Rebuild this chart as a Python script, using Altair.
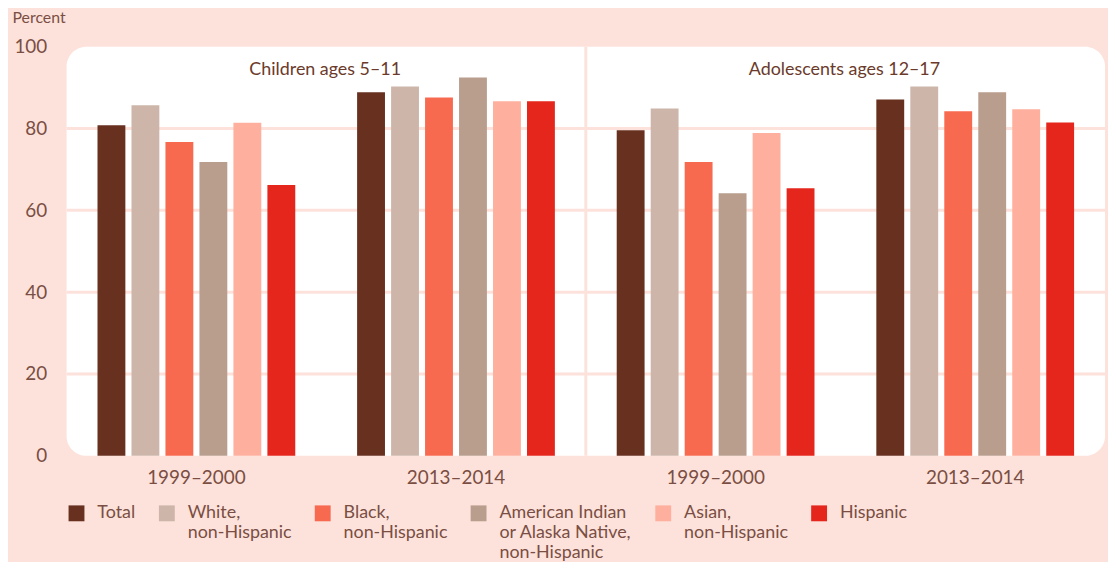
import altair as alt
import pandas as pd

# ---- data ----
panels = ["Children ages 5–11", "Adolescents ages 12–17"]
periods = ["1999–2000", "2013–2014"]
# legend labels, one list of lines per group
group_lines = [
    ["Total"],
    ["White,", "non-Hispanic"],
    ["Black,", "non-Hispanic"],
    ["American Indian", "or Alaska Native,", "non-Hispanic"],
    ["Asian,", "non-Hispanic"],
    ["Hispanic"],
]
colors = ["#67301F", "#CDB6A9", "#F76A50", "#B99E8D", "#FFAF9E", "#E5261C"]

children_1999 = [80.8, 85.7, 76.7, 71.8, 81.4, 66.2]
children_2013 = [88.9, 90.3, 87.6, 92.5, 86.7, 86.7]
adolescents_1999 = [79.6, 84.9, 71.8, 64.2, 78.9, 65.4]
adolescents_2013 = [87.1, 90.3, 84.2, 88.9, 84.7, 81.5]

y_ticks = [0, 20, 40, 60, 80, 100]
grid_values = [20, 40, 60, 80]

# ---- styling ----
BG = "#FDE2DC"
GRID = "#FDE2DC"
LABEL = "#7A4E42"
DARK = "#6B3A2B"
FONT = "Lato"

# legend keys: lines joined by '|', padded to 3 lines so that every
# entry's first line sits on the same row
groups = ["|".join(list(lines) + [""] * (3 - len(lines))) for lines in group_lines]

series = {
    (panels[0], periods[0]): children_1999,
    (panels[0], periods[1]): children_2013,
    (panels[1], periods[0]): adolescents_1999,
    (panels[1], periods[1]): adolescents_2013,
}
keys = []
rows = []
for p in panels:
    for per in periods:
        k = p + " · " + per
        keys.append(k)
        for g, v in zip(groups, series[(p, per)]):
            rows.append({"key": k, "group": g, "value": v})
df = pd.DataFrame(rows)

x_scale = alt.Scale(domain=keys, paddingInner=0, paddingOuter=0)

bars = alt.Chart(df).mark_bar().encode(
    x=alt.X(
        "key:N",
        sort=keys,
        scale=x_scale,
        axis=alt.Axis(
            title=None,
            labelExpr="split(datum.label, ' · ')[1]",
            labelAngle=0,
            labelAlign="center",
            bandPosition=0.5,
            labelFontSize=19,
            labelColor=LABEL,
            labelFont=FONT,
            labelPadding=22,
            ticks=False,
            domain=False,
            grid=False,
        ),
    ),
    xOffset=alt.XOffset(
        "group:N", sort=groups,
        scale=alt.Scale(domain=groups, paddingInner=0.18, paddingOuter=0.91),
    ),
    y=alt.Y(
        "value:Q",
        scale=alt.Scale(domain=[0, 100], nice=False),
        axis=alt.Axis(
            values=y_ticks,
            title="Percent",
            titleAngle=0,
            titleAlign="left",
            titleBaseline="top",
            titleX=-55,
            titleY=-37,
            titleFontSize=16,
            titleFontWeight="normal",
            titleColor=LABEL,
            titleFont=FONT,
            labelFontSize=19,
            labelColor=LABEL,
            labelFont=FONT,
            labelPadding=20,
            ticks=False,
            domain=False,
            grid=False,
        ),
    ),
    color=alt.Color(
        "group:N",
        sort=groups,
        scale=alt.Scale(domain=groups, range=colors),
        legend=alt.Legend(
            title=None,
            orient="none",
            legendX=1,
            legendY=461,
            direction="horizontal",
            columns=6,
            symbolType="square",
            symbolSize=256,
            symbolStrokeWidth=0,
            symbolOpacity=1,
            labelFontSize=18,
            labelFont=FONT,
            labelColor=LABEL,
            labelExpr="split(datum.label, '|')",
            labelLimit=0,
            labelOffset=12,
            columnPadding=22,
        ),
    ),
)

grid = alt.Chart(pd.DataFrame({"v": grid_values})).mark_rule(
    color=GRID, strokeWidth=3
).encode(y="v:Q")

divider = alt.Chart(pd.DataFrame({"key": [keys[2]]})).mark_rule(
    color=GRID, strokeWidth=3
).encode(x=alt.X("key:N", sort=keys, bandPosition=0))

titles = alt.Chart(
    pd.DataFrame({"key": [keys[0], keys[2]], "t": panels})
).mark_text(
    fontSize=18, color=DARK, font=FONT, align="center", baseline="middle", dx=-1
).encode(
    x=alt.X("key:N", sort=keys, bandPosition=1),
    y=alt.value(23),
    text="t:N",
)

chart = (
    alt.layer(grid, divider, bars, titles)
    .properties(
        width=1046,
        height=412,
        background=BG,
        padding={"left": 59, "top": 37, "right": 3, "bottom": 105},
        autosize=alt.AutoSizeParams(type="none"),
    )
    .configure_view(fill="white", cornerRadius=20, strokeWidth=0)
)

chart.save("out.html", embed_options={"renderer": "svg", "actions": False})
